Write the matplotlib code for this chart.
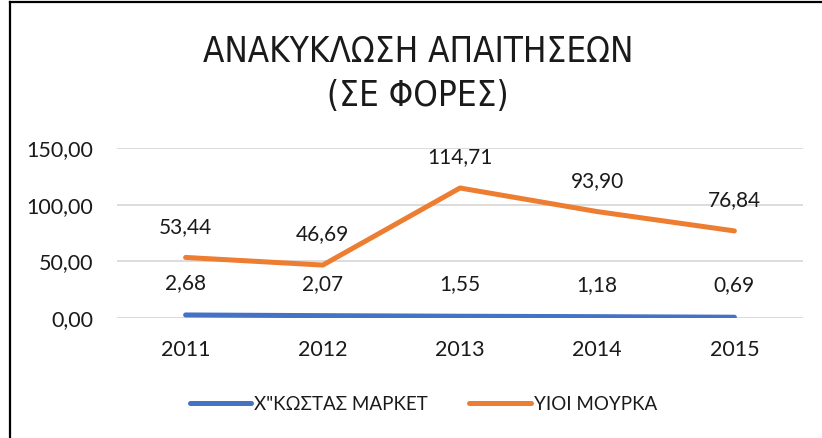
import matplotlib.pyplot as plt
from matplotlib.ticker import FuncFormatter
from matplotlib.lines import Line2D

years = ["2011", "2012", "2013", "2014", "2015"]
kostas = [2.68, 2.07, 1.55, 1.18, 0.69]
mourka = [53.44, 46.69, 114.71, 93.90, 76.84]
names = ['Χ"ΚΩΣΤΑΣ ΜΑΡΚΕΤ', "ΥΙΟΙ ΜΟΥΡΚΑ"]
y_ticks = [0, 50, 100, 150]

blue = "#4472C4"
orange = "#ED7D31"
txt = "#1a1a1a"

plt.rcParams["font.family"] = ["Lato", "DejaVu Sans"]


def fmt(v):
    return f"{v:.2f}".replace(".", ",")


fig = plt.figure(figsize=(8.22, 4.38), dpi=100)
ax = fig.add_axes([117 / 822, 1 - 318 / 438, (803 - 117) / 822, 170 / 438])

x = list(range(len(years)))
ax.plot(x, kostas, color=blue, lw=3.6, solid_capstyle="round", label=names[0])
ax.plot(x, mourka, color=orange, lw=3.6, solid_capstyle="round", label=names[1])

for xi, v in zip(x, kostas):
    ax.annotate(fmt(v), (xi, v), xytext=(0, 23), textcoords="offset points",
                ha="center", va="center", fontsize=15, color=txt)
for xi, v in zip(x, mourka):
    ax.annotate(fmt(v), (xi, v), xytext=(0, 22), textcoords="offset points",
                ha="center", va="center", fontsize=15, color=txt)

ax.set_xlim(-0.5, 4.5)
ax.set_ylim(0, 150)
ax.set_xticks(x)
ax.set_xticklabels(years)
ax.set_yticks(y_ticks)
ax.yaxis.set_major_formatter(FuncFormatter(lambda v, p: fmt(v)))
ax.tick_params(length=0, labelsize=15.5, labelcolor=txt)
ax.tick_params(axis="x", pad=16)
ax.tick_params(axis="y", pad=17)
ax.grid(axis="y", color="#D9D9D9", lw=1.3)
ax.set_axisbelow(True)
for s in ax.spines.values():
    s.set_visible(False)

fig.text(418 / 822, 1 - 74 / 438, "ΑΝΑΚΥΚΛΩΣΗ ΑΠΑΙΤΗΣΕΩΝ\n(ΣΕ ΦΟΡΕΣ)",
         ha="center", va="center", fontsize=25, color=txt, linespacing=1.35,
         family=["Liberation Sans Narrow", "DejaVu Sans"], fontstretch="condensed")

leg = fig.legend(loc="center", bbox_to_anchor=(0.515, 1 - 404 / 438), ncol=2,
                 frameon=False, fontsize=13.5, handlelength=3.3, handletextpad=0.15,
                 columnspacing=2.2)
for t in leg.get_texts():
    t.set_color(txt)

fig.add_artist(Line2D([10 / 822, 10 / 822], [0, 1 - 1.5 / 438], color="black", lw=1.6,
                      transform=fig.transFigure))
fig.add_artist(Line2D([10 / 822, 1], [1 - 1.5 / 438, 1 - 1.5 / 438], color="black", lw=1.6,
                      transform=fig.transFigure))

fig.savefig("out.png", dpi=100)
